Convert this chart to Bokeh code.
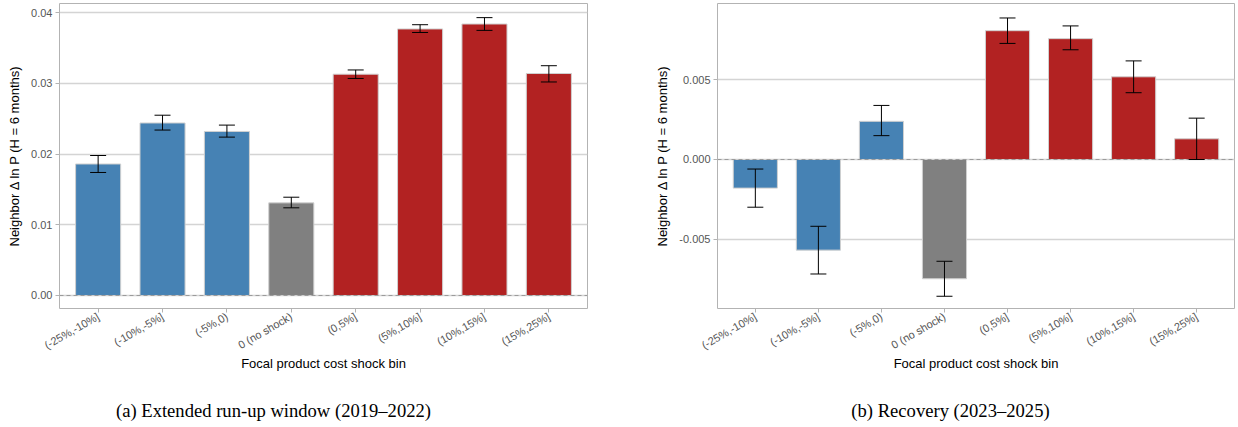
from math import pi

from bokeh.embed import file_html
from bokeh.resources import INLINE
from bokeh.layouts import row, column
from bokeh.plotting import figure
from bokeh.core.properties import value
from bokeh.models import (ColumnDataSource, FactorRange, Range1d, FixedTicker,
                          PrintfTickFormatter, Whisker, TeeHead, Span)

# Shock bins (shared by both panels)
bins = ["(-25%,-10%]", "(-10%,-5%]", "(-5%,0)", "0 (no shock)",
        "(0,5%]", "(5%,10%]", "(10%,15%]", "(15%,25%]"]
bin_colors = ["#4682B4", "#4682B4", "#4682B4", "#808080",
              "#B22222", "#B22222", "#B22222", "#B22222"]

# Panel (a): extended run-up window 2019-2022
runup_est = [0.0186, 0.0244, 0.0232, 0.0131, 0.0313, 0.0377, 0.0384, 0.0314]
runup_lo = [0.0174, 0.0234, 0.0224, 0.0124, 0.0307, 0.0372, 0.0375, 0.0302]
runup_hi = [0.0198, 0.0255, 0.0241, 0.0139, 0.0319, 0.0383, 0.0393, 0.0325]

# Panel (b): recovery 2023-2025
recov_est = [-0.0018, -0.0057, 0.0024, -0.0075, 0.0081, 0.0076, 0.0052, 0.0013]
recov_lo = [-0.0030, -0.0072, 0.0015, -0.0086, 0.0073, 0.0069, 0.0042, 0.0000]
recov_hi = [-0.0006, -0.0042, 0.0034, -0.0064, 0.0089, 0.0084, 0.0062, 0.0026]

captions = ["(a) Extended run-up window (2019\u20132022)", "(b) Recovery (2023\u20132025)"]

SANS = "Liberation Sans"
SERIF = "Liberation Serif"


def panel(est, lo, hi, y_range, ticks, fmt, border_left, border_right):
    src = ColumnDataSource(dict(bin=bins, est=est, lo=lo, hi=hi, color=bin_colors))
    p = figure(width=619, height=390, output_backend="svg", toolbar_location=None,
               x_range=FactorRange(factors=bins, range_padding=0.025),
               y_range=y_range,
               min_border_left=border_left, min_border_right=border_right,
               min_border_top=3, min_border_bottom=82)
    p.background_fill_color = "white"
    p.border_fill_color = "white"
    p.outline_line_color = "#b3b3b3"
    p.outline_line_width = 1

    p.vbar(x="bin", top="est", bottom=0, width=0.7, source=src,
           fill_color="color", line_color="#d0d0d0", line_width=1)

    p.add_layout(Span(location=0, dimension="width", line_color="#9a9a9a",
                      line_dash="4 3", line_width=1, level="overlay"))

    p.add_layout(Whisker(base="bin", lower="lo", upper="hi", source=src,
                         line_color="black", line_width=1, level="overlay",
                         upper_head=TeeHead(size=16, line_color="black", line_width=1),
                         lower_head=TeeHead(size=16, line_color="black", line_width=1)))

    p.xgrid.grid_line_color = None
    p.ygrid.grid_line_color = "#d4d4d4"
    p.ygrid.grid_line_width = 1.3

    p.yaxis.ticker = FixedTicker(ticks=ticks)
    p.yaxis.formatter = PrintfTickFormatter(format=fmt)
    p.yaxis.axis_label = "Neighbor \u0394 ln P (H = 6 months)"
    p.xaxis.axis_label = "Focal product cost shock bin"
    p.xaxis.major_label_orientation = pi / 6

    for ax in (p.xaxis[0], p.yaxis[0]):
        ax.axis_line_color = None
        ax.major_tick_line_color = "#b3b3b3"
        ax.major_tick_out = 4
        ax.major_tick_in = 0
        ax.minor_tick_line_color = None
        ax.major_label_text_font = SANS
        ax.major_label_text_font_size = "11px"
        ax.major_label_text_color = "#555555"
        ax.axis_label_text_font = SANS
        ax.axis_label_text_font_size = "13px"
        ax.axis_label_text_font_style = "normal"
        ax.axis_label_text_color = "black"
        ax.major_label_standoff = 3
    p.xaxis.axis_label_standoff = -3
    p.yaxis.axis_label_standoff = 6
    return p


p1 = panel(runup_est, runup_lo, runup_hi, Range1d(-0.00184, 0.0413),
           [0.0, 0.01, 0.02, 0.03, 0.04], "%.2f", 59, 32)
p2 = panel(recov_est, recov_lo, recov_hi, Range1d(-0.00937, 0.00981),
           [-0.005, 0.0, 0.005], "%.3f", 98, 4)

# caption strip under the two panels (pixel coordinates)
cap = figure(width=1238, height=37, output_backend="svg", toolbar_location=None,
             x_range=Range1d(0, 1238), y_range=Range1d(0, 37),
             min_border=0, min_border_left=0, min_border_right=0,
             min_border_top=0, min_border_bottom=0)
cap.axis.visible = False
cap.grid.visible = False
cap.outline_line_color = None
cap.text(x=[273, 950], y=[17, 17], text=captions, text_align="center",
         text_baseline="middle", text_font=value(SERIF), text_font_size="18.6px",
         text_color="black")

layout = column(row(p1, p2), cap)
open("out.html", "w").write(file_html(layout, INLINE))
